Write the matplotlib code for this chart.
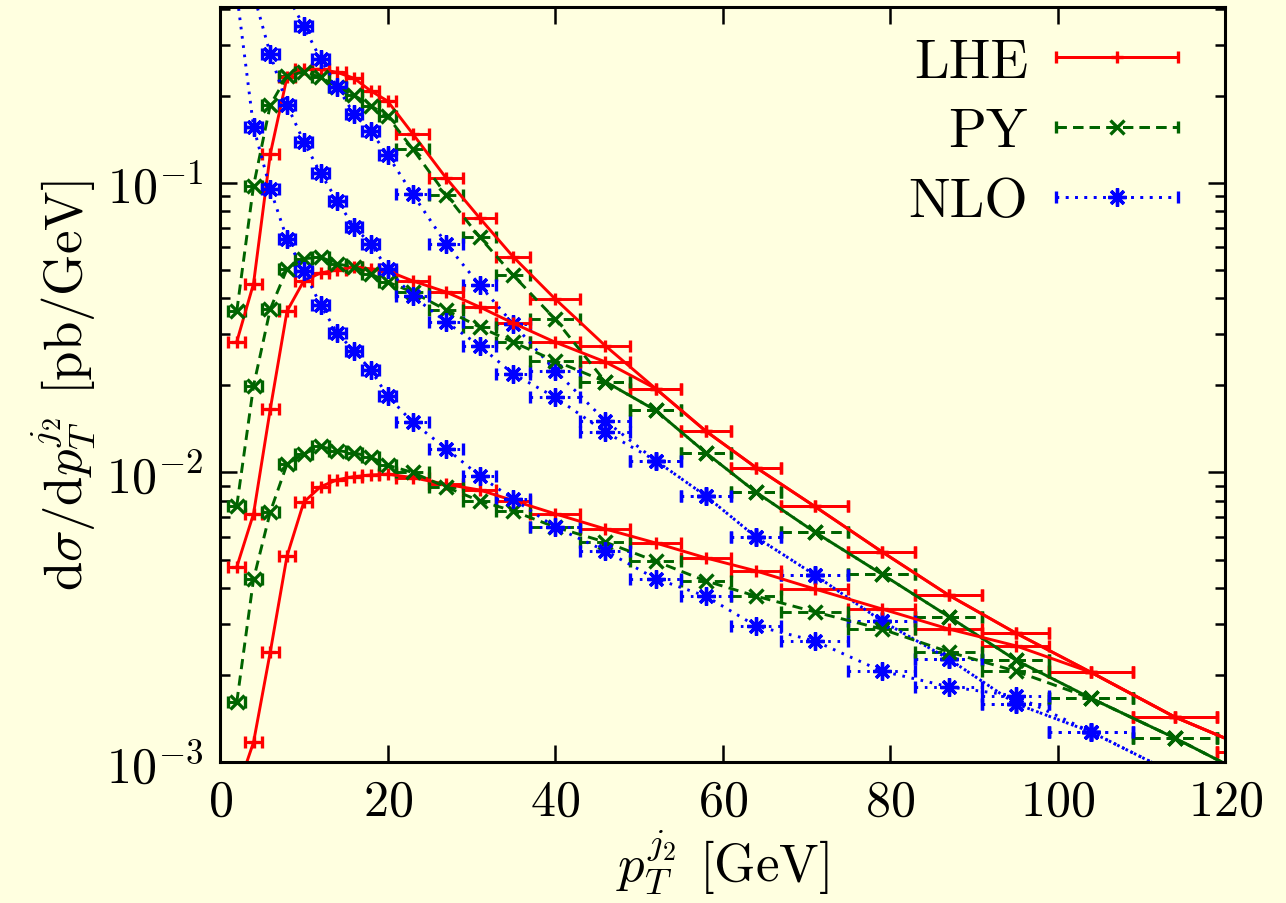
import numpy as np
import matplotlib
matplotlib.use('Agg')
import matplotlib.pyplot as plt
from matplotlib.container import ErrorbarContainer
from matplotlib.legend_handler import HandlerErrorbar

plt.rcParams['font.family'] = 'serif'
plt.rcParams['font.serif'] = ['cmr10']
plt.rcParams['mathtext.fontset'] = 'cm'
plt.rcParams['axes.formatter.use_mathtext'] = True

# bin centres and half widths of pT^j2 (GeV)
pt = [2, 4, 6, 8, 10, 12, 14, 16, 18, 20, 23, 27, 31, 35, 40, 46, 52, 58, 64, 71, 79, 87, 95, 104, 114, 124]
dpt = [1]*10 + [2]*4 + [3]*5 + [4]*4 + [5]*3

# upper set
lhe_1 = [0.0283, 0.0449, 0.126, 0.232, 0.247, 0.247, 0.241, 0.230, 0.208, 0.192, 0.148, 0.104, 0.0757, 0.0556,
         0.0398, 0.0274, 0.0195, 0.0139, 0.0104, 0.00764, 0.00533, 0.00377, 0.00279, 0.00204, 0.00143, 0.00108]
py_1 = [0.0361, 0.0977, 0.186, 0.234, 0.242, 0.232, 0.215, 0.201, 0.185, 0.170, 0.131, 0.0910, 0.065, 0.048,
        0.0339, 0.0206, 0.0164, 0.0117, 0.00855, 0.00623, 0.00446, 0.00318, 0.00225, 0.00166, 0.00121, 0.00086]
nlo_1 = [3.0, 1.5, 0.8, 0.447, 0.348, 0.268, 0.215, 0.173, 0.151, 0.125, 0.0916, 0.0616, 0.0444, 0.0326,
         0.0225, 0.0151, 0.0110, 0.0083, 0.00598, 0.00443, 0.00307, 0.00227, 0.00159, 0.00127, 0.00091, 0.0007]

# middle set
lhe_2 = [0.00472, 0.0072, 0.01656, 0.0361, 0.0459, 0.0489, 0.0501, 0.0513, 0.0505, 0.0497, 0.0459, 0.0420, 0.0373, 0.0328,
         0.0282, 0.0241, 0.0195, 0.0139, 0.0104, 0.00764, 0.00533, 0.00377, 0.00279, 0.00204, 0.00143, 0.00108]
py_2 = [0.00767, 0.0199, 0.0367, 0.0505, 0.0547, 0.0555, 0.0525, 0.0513, 0.0485, 0.0455, 0.042, 0.0364, 0.0318, 0.0282,
        0.0243, 0.0206, 0.0164, 0.0117, 0.00855, 0.00623, 0.00446, 0.00318, 0.00225, 0.00166, 0.00121, 0.00086]
nlo_2 = [1.0, 0.45, 0.279, 0.186, 0.139, 0.108, 0.0867, 0.0705, 0.0616, 0.0505, 0.0407, 0.0331, 0.0274, 0.0219,
         0.0182, 0.0138, 0.0110, 0.0083, 0.00598, 0.00443, 0.00307, 0.00227, 0.00159, 0.00127, 0.00091, 0.0007]

# lower set
lhe_3 = [0.00079, 0.00117, 0.0024, 0.00515, 0.0079, 0.00893, 0.00944, 0.00968, 0.0098, 0.00987, 0.0096, 0.0091, 0.0087, 0.0080,
         0.0072, 0.00638, 0.00571, 0.00507, 0.00457, 0.00396, 0.00338, 0.00288, 0.00252, 0.00204, 0.00143, 0.00108]
py_3 = [0.00161, 0.00428, 0.00731, 0.0107, 0.0116, 0.0123, 0.0119, 0.0117, 0.0113, 0.0106, 0.0100, 0.0089, 0.00798, 0.00736,
        0.00648, 0.00575, 0.00494, 0.00422, 0.00374, 0.0033, 0.00288, 0.0024, 0.00206, 0.00166, 0.00121, 0.00086]
nlo_3 = [0.45, 0.156, 0.0953, 0.064, 0.0497, 0.0379, 0.0303, 0.0263, 0.0226, 0.0184, 0.0149, 0.0121, 0.00973, 0.0081,
         0.00648, 0.00536, 0.0043, 0.00374, 0.00295, 0.00262, 0.00206, 0.00182, 0.00169, 0.00127, 0.00091, 0.0007]

bg = '#ffffe0'
lw = 2.1

fig = plt.figure(figsize=(12.86, 9.04), dpi=100, facecolor=bg)
ax = fig.add_axes([0.1711, 0.156, 0.7815, 0.835], facecolor=bg)

styles = {
    'LHE': dict(color='#ff0000', ls='-', marker='+', ms=8),
    'PY': dict(color='#006400', ls=(0, (3.5, 2.2)), marker='x', ms=10),
    'NLO': dict(color='#0000ff', ls=(0, (0.9, 2.3)), marker=(8, 2, 0), ms=13),
}

handles = {}
for lhe, py, nlo in [(lhe_1, py_1, nlo_1), (lhe_2, py_2, nlo_2), (lhe_3, py_3, nlo_3)]:
    for name, yv in [('LHE', lhe), ('PY', py), ('NLO', nlo)]:
        s = styles[name]
        eb = ax.errorbar(pt, yv, xerr=dpt, color=s['color'], ls=s['ls'], lw=lw,
                         marker=s['marker'], ms=s['ms'], mew=lw + 0.3,
                         elinewidth=lw, capsize=4.3, capthick=lw)
        eb[2][0].set_linestyle(s['ls'])
        handles[name] = eb

ax.set_yscale('log')
ax.set_xlim(0, 120)
ax.set_ylim(1e-3, 0.405)
ax.set_xticks([0, 20, 40, 60, 80, 100, 120])

ax.tick_params(which='both', direction='in', top=True, right=True, width=1.8, labelsize=36, pad=12)
ax.tick_params(which='major', length=12)
ax.tick_params(which='minor', length=7)
for sp in ax.spines.values():
    sp.set_linewidth(2.2)

ax.set_xlabel(r'$p_T^{j_2}$ [GeV]', fontsize=38, labelpad=2)
ax.set_ylabel(r'$\mathrm{d}\sigma/\mathrm{d}p_T^{j_2}$ [pb/GeV]', fontsize=38, labelpad=6)

leg = ax.legend([handles['LHE'], handles['PY'], handles['NLO']], ['LHE', 'PY', 'NLO'],
                loc='upper right', frameon=False, markerfirst=False, numpoints=1,
                fontsize=40, handlelength=2.2, handletextpad=0.5, labelspacing=0.36,
                borderaxespad=0.3, bbox_to_anchor=(0.992, 1.011),
                handler_map={ErrorbarContainer: HandlerErrorbar(xerr_size=1.1)})

fig.savefig('out.png', dpi=100, facecolor=bg)
